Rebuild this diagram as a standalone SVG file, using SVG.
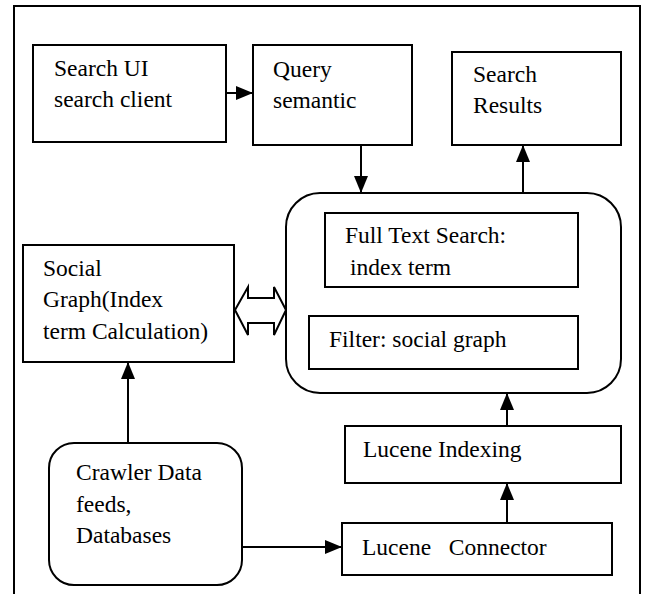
<svg xmlns="http://www.w3.org/2000/svg" width="649" height="594" viewBox="0 0 649 594">
<style>
.box{fill:#fff;stroke:#000;stroke-width:2}
.frame{fill:#fff;stroke:#000;stroke-width:2}
.t{font-family:'Liberation Serif','Times New Roman','DejaVu Serif',serif;font-size:23.5px;fill:#000}
.con{stroke:#000;stroke-width:2;fill:none}
.dbl{fill:#fff;stroke:#000;stroke-width:2;stroke-linejoin:miter}
</style>
<defs>
<marker id="ah" markerUnits="userSpaceOnUse" markerWidth="17" markerHeight="14" refX="17" refY="7" orient="auto">
<path d="M0,0 L17,7 L0,14 z" fill="#000"/>
</marker>
</defs>
<rect class="frame" x="14" y="6" width="626" height="600"/>
<g id="connectors">
<line class="con" x1="226" y1="93" x2="253" y2="93" marker-end="url(#ah)"/>
<line class="con" x1="361" y1="145" x2="361" y2="193" marker-end="url(#ah)"/>
<line class="con" x1="523" y1="193" x2="523" y2="145" marker-end="url(#ah)"/>
<line class="con" x1="128" y1="443" x2="128" y2="362" marker-end="url(#ah)"/>
<line class="con" x1="242" y1="547" x2="342" y2="547" marker-end="url(#ah)"/>
<line class="con" x1="507" y1="523" x2="507" y2="483" marker-end="url(#ah)"/>
<line class="con" x1="507" y1="426" x2="507" y2="393" marker-end="url(#ah)"/>
<polygon class="dbl" points="235,310 248,287 248,298 274,298 274,287 286,310 274,335 274,323 248,323 248,335"/>
</g>
<g id="search-ui">
<rect class="box" x="33" y="45" width="193" height="97"/>
<text class="t" x="54" y="76">Search UI</text>
<text class="t" x="54" y="107">search client</text>
</g>
<g id="query">
<rect class="box" x="253" y="45" width="159" height="100"/>
<text class="t" x="273" y="77">Query</text>
<text class="t" x="273" y="108">semantic</text>
</g>
<g id="search-results">
<rect class="box" x="452" y="52" width="169" height="93"/>
<text class="t" x="473" y="82">Search</text>
<text class="t" x="473" y="113">Results</text>
</g>
<g id="search-engine">
<rect class="box" x="286" y="193" width="335" height="200" rx="34" ry="34"/>
</g>
<g id="full-text-search">
<rect class="box" x="325" y="213" width="253" height="74"/>
<text class="t" x="345" y="243">Full Text Search:</text>
<text class="t" x="350" y="275">index term</text>
</g>
<g id="filter">
<rect class="box" x="309" y="316" width="269" height="53"/>
<text class="t" x="329" y="347">Filter: social graph</text>
</g>
<g id="social-graph">
<rect class="box" x="23" y="245" width="211" height="117"/>
<text class="t" x="43" y="276">Social</text>
<text class="t" x="43" y="307">Graph(Index</text>
<text class="t" x="43" y="339">term Calculation)</text>
</g>
<g id="crawler">
<rect class="box" x="49" y="443" width="193" height="142" rx="25" ry="25"/>
<text class="t" x="76" y="480">Crawler Data</text>
<text class="t" x="76" y="512">feeds,</text>
<text class="t" x="76" y="543">Databases</text>
</g>
<g id="lucene-indexing">
<rect class="box" x="345" y="426" width="276" height="57"/>
<text class="t" x="363" y="457">Lucene Indexing</text>
</g>
<g id="lucene-connector">
<rect class="box" x="342" y="523" width="270" height="52"/>
<text class="t" x="362" y="555" xml:space="preserve">Lucene   Connector</text>
</g>
</svg>
